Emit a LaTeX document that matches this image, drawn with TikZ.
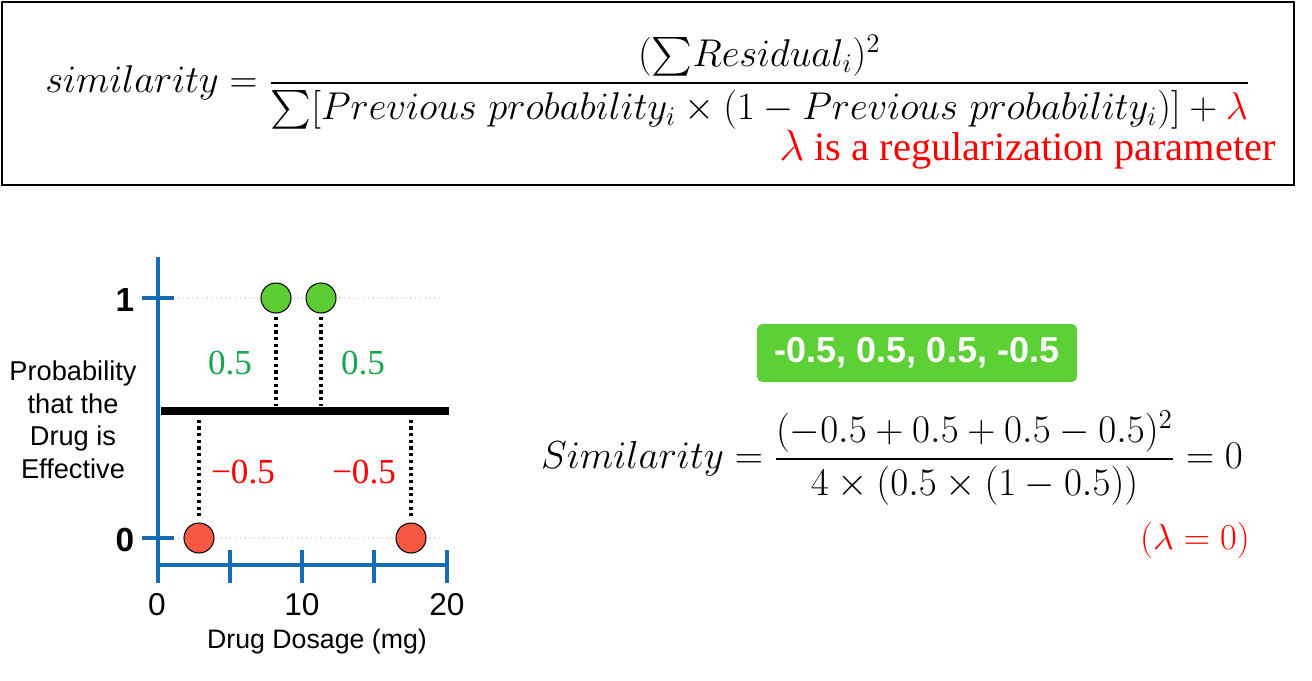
\documentclass[tikz,border=0pt]{standalone}
\usepackage{amsmath}
\usepackage{fontspec}
\newfontfamily\plotfont{Liberation Sans}
\newfontfamily\numfont{Liberation Serif}
\usetikzlibrary{positioning,calc}
\definecolor{axisblue}{RGB}{22,108,178}
\definecolor{dotgreen}{RGB}{92,206,52}
\definecolor{dotred}{RGB}{246,88,66}
\definecolor{labelgreen}{RGB}{24,166,78}
\definecolor{boxgreen}{RGB}{92,208,52}
\tikzstyle{axis} = [draw=axisblue, line width=2.8pt]
\tikzstyle{grid} = [draw=gray!25, dotted, line width=0.7pt]
\tikzstyle{resid} = [draw, dotted, line width=1.8pt]
\tikzstyle{dot} = [circle, draw=black, line width=0.6pt, minimum size=0.6cm, inner sep=0pt]
\tikzstyle{ticklabel} = [font=\plotfont\fontsize{18}{21}\selectfont]
\tikzstyle{residlabel} = [font=\numfont\fontsize{20}{24}\selectfont]
\tikzstyle{mathtext} = [font=\fontsize{20.74}{25}\selectfont, inner sep=0pt]

\begin{document}
\begin{tikzpicture}[x=0.02cm, y=-0.02cm]
    \useasboundingbox (0,0) rectangle (1312,680);
    % formula box
    \draw[line width=1.2pt] (2,2) rectangle (1294,185);
    \node[mathtext, anchor=west] (simformula) at (45,82)
        {\resizebox{24.1cm}{!}{$similarity = \dfrac{({\textstyle\sum} Residual_i)^2}{{\textstyle\sum}[Previous\ probability_i \times (1 - Previous\ probability_i)] + \textcolor{red}{\lambda}}$}};
    \node[anchor=east, text=red, font=\numfont\fontsize{23}{27}\selectfont, inner sep=0pt] (lambdanote) at (1276,150)
        {$\lambda$ is a regularization parameter};
    % plot
    \draw[grid] (178,298) -- (443,298);
    \draw[grid] (178,538) -- (443,538);
    \draw[axis] (158,257) -- (158,583);
    \draw[axis] (158,565) -- (447,565);
    \foreach \y in {298,538}
        \draw[axis] (142,\y) -- (174,\y);
    \foreach \x in {230,302,374,447}
        \draw[axis] (\x,550) -- (\x,583);
    \node[ticklabel, font=\plotfont\bfseries\fontsize{19}{22}\selectfont] (yone) at (125,300) {1};
    \node[ticklabel, font=\plotfont\bfseries\fontsize{19}{22}\selectfont] (yzero) at (125,540) {0};
    \node[ticklabel] (xzero) at (157,605) {0};
    \node[ticklabel] (xten) at (302,605) {10};
    \node[ticklabel] (xtwenty) at (447,605) {20};
    \node[font=\plotfont\fontsize{15.2}{18}\selectfont] (xlabel) at (317,642) {Drug Dosage (mg)};
    \node[font=\plotfont\fontsize{15.5}{18.5}\selectfont, align=center] (ylabel) at (73,420)
        {Probability\\that the\\Drug is\\Effective};
    \coordinate (mean) at (161,411);
    \coordinate (meanend) at (449,411);
    \node[dot, fill=dotgreen] (g1) at (276,298) {};
    \node[dot, fill=dotgreen] (g2) at (321,298) {};
    \node[dot, fill=dotred] (r1) at (199,538) {};
    \node[dot, fill=dotred] (r2) at (411,538) {};
    \draw[resid, shorten <=2pt, shorten >=3pt] (g1.south) -- (g1 |- mean);
    \draw[resid, shorten <=2pt, shorten >=3pt] (g2.south) -- (g2 |- mean);
    \draw[resid, shorten <=5pt, shorten >=3pt] (r1 |- mean) -- (r1.north);
    \draw[resid, shorten <=5pt, shorten >=3pt] (r2 |- mean) -- (r2.north);
    \draw[line width=4.5pt] (mean) -- (meanend);
    \node[residlabel, text=labelgreen] (gl1) at (230,363) {0.5};
    \node[residlabel, text=labelgreen] (gl2) at (363,363) {0.5};
    \node[residlabel, text=red] (rl1) at (243,472) {−0.5};
    \node[residlabel, text=red] (rl2) at (364,472) {−0.5};
    % calculation
    \node[fill=boxgreen, rounded corners=3pt, text=white, font=\plotfont\bfseries\fontsize{20.5}{24}\selectfont,
        minimum width=6.4cm, minimum height=1.16cm] (resbox) at (917,353) {-0.5, 0.5, 0.5, -0.5};
    \node[mathtext] (simcalc) at (892,458)
        {\resizebox{14.04cm}{!}{$Similarity = \dfrac{(-0.5 + 0.5 + 0.5 - 0.5)^2}{4 \times (0.5 \times (1 - 0.5))} = 0$}};
    \node[mathtext, text=red] (lambdazero) at (1195,540) {$(\lambda = 0)$};
\end{tikzpicture}
\end{document}
